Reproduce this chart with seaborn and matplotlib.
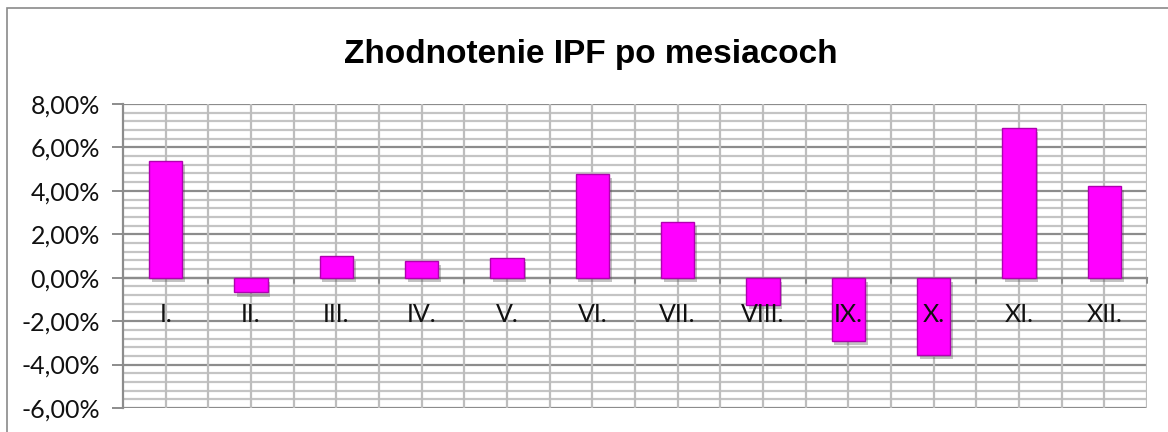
import matplotlib
matplotlib.use("Agg")
import matplotlib.pyplot as plt
import matplotlib.patheffects as pe
from matplotlib.ticker import MultipleLocator, FuncFormatter
import seaborn as sns
import pandas as pd
from matplotlib import font_manager

months = ["I.", "II.", "III.", "IV.", "V.", "VI.", "VII.", "VIII.", "IX.", "X.", "XI.", "XII."]
values = [5.38, -0.68, 0.98, 0.77, 0.90, 4.78, 2.57, -1.27, -2.92, -3.55, 6.89, 4.22]
title = "Zhodnotenie IPF po mesiacoch"

sns.set_theme(style="white")
names = {f.name for f in font_manager.fontManager.ttflist}
label_font = "Lato" if "Lato" in names else "DejaVu Sans"
plt.rcParams["font.family"] = [label_font, "DejaVu Sans"]

W, H = 1168, 432
fig = plt.figure(figsize=(W / 100, H / 100), dpi=100)
fig.patch.set_facecolor("white")

# chart frame (left and top visible)
fig.add_artist(plt.Rectangle((7 / W, -0.1), 1.2, (H - 8) / H + 0.1, transform=fig.transFigure,
                             fill=False, edgecolor="#8a8a8a", linewidth=1.2))

left, right, top, bottom = 123, 1147, 104, 408
ax = fig.add_axes([left / W, (H - bottom) / H, (right - left) / W, (bottom - top) / H])

df = pd.DataFrame({"month": months, "value": values})
sns.barplot(data=df, x="month", y="value", ax=ax, color="#ff00ff", width=0.39,
            saturation=1, edgecolor="#b000b0", linewidth=1.0, zorder=3)
for p in ax.patches:
    p.set_path_effects([pe.SimplePatchShadow(offset=(2, -3), shadow_rgbFace="#555555", alpha=0.35),
                        pe.Normal()])

ax.set_ylim(-6, 8)
ax.set_xlim(-0.5, 11.5)
ax.yaxis.set_major_locator(MultipleLocator(2))
ax.yaxis.set_minor_locator(MultipleLocator(0.4))
ax.yaxis.set_major_formatter(FuncFormatter(lambda v, _: f"{v:.2f}%".replace(".", ",")))

# vertical grid at category centers and boundaries
for i in range(12):
    ax.axvline(i, color="#bdbdbd", linewidth=1.6, zorder=1)
    ax.axvline(i + 0.5, color="#bdbdbd", linewidth=1.6, zorder=1)
# horizontal minor and major grid
ax.grid(False)
ax.yaxis.grid(True, which="minor", color="#c4c4c4", linewidth=1.6, zorder=1)
ax.yaxis.grid(True, which="major", color="#8c8c8c", linewidth=1.6, zorder=1)
ax.set_axisbelow(True)

for s in ["top", "right"]:
    ax.spines[s].set_visible(False)
ax.spines["left"].set_color("#8c8c8c")
ax.spines["left"].set_linewidth(1.6)
ax.spines["bottom"].set_position(("data", 0))
ax.spines["bottom"].set_color("#8c8c8c")
ax.spines["bottom"].set_linewidth(1.6)
ax.spines["bottom"].set_zorder(2)

ax.set_xlabel("")
ax.set_ylabel("")
ax.tick_params(axis="y", which="major", left=True, length=8, width=1.4, color="#8c8c8c",
               labelsize=18, pad=8.5, labelcolor="#111111")
ax.tick_params(axis="y", which="minor", left=False)
# x tick labels below zero line, drawn above the bars
ax.set_xticks(range(12))
ax.set_xticklabels(months)
ax.tick_params(axis="x", which="major", bottom=False, labelsize=18, pad=12, labelcolor="#111111")
ax.xaxis.set_zorder(5)
for b in [i - 0.5 for i in range(13)]:
    ax.plot([b, b], [0, -0.25], color="#8c8c8c", linewidth=1.4, zorder=2, clip_on=False)

fig.text(590.5 / W, (H - 62.7) / H, title, ha="center", va="baseline",
         fontsize=24, fontweight="bold", family=["Liberation Sans", "DejaVu Sans"], color="black")

fig.savefig("out.png", dpi=100, facecolor="white")
